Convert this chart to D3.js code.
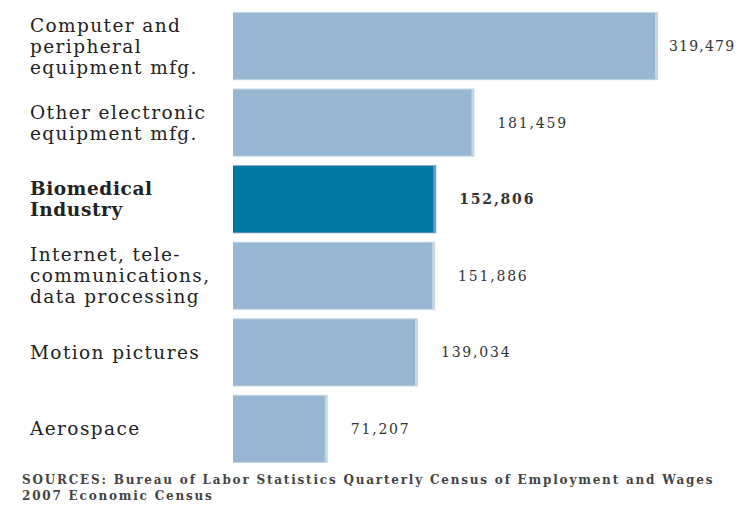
<!DOCTYPE html>
<html>
<head>
<meta charset="utf-8">
<script src="https://cdn.jsdelivr.net/npm/d3@7"></script>
<style>
  body { margin: 0; background: #fff; }
  svg { display: block; }
</style>
</head>
<body>
<div id="chart"></div>
<script>
const categories = [
    ['Computer and', 'peripheral', 'equipment mfg.'],
    ['Other electronic', 'equipment mfg.'],
    ['Biomedical', 'Industry'],
    ['Internet, tele-', 'communications,', 'data processing'],
    ['Motion pictures'],
    ['Aerospace']
];
const employment = [319479, 181459, 152806, 151886, 139034, 71207];
const highlight = [false, false, true, false, false, false];
const sourceLines = [
    'SOURCES: Bureau of Labor Statistics Quarterly Census of  Employment and Wages',
    '2007 Economic Census'
];

const width = 739;
const height = 509;
const serif = '"DejaVu Serif", "Liberation Serif", serif';

const svg = d3.select('#chart')
    .append('svg')
    .attr('width', width)
    .attr('height', height);

const rows = categories.map((c, i) => ({ id: i, lines: c, value: employment[i], hi: highlight[i] }));

const yScale = d3.scaleBand()
    .domain(rows.map(d => d.id))
    .range([12, 463])
    .paddingInner(0.11)
    .paddingOuter(0);

const xScale = d3.scaleLinear()
    .domain([0, d3.max(employment)])
    .range([233, 658]);

const row = svg.selectAll('g.row')
    .data(rows)
    .enter().append('g')
    .attr('class', 'row');

// light rim on the bar end
row.append('rect')
    .attr('x', xScale(0))
    .attr('y', d => yScale(d.id))
    .attr('width', d => xScale(d.value) - xScale(0))
    .attr('height', yScale.bandwidth())
    .attr('fill', d => d.hi ? '#6f9fc0' : '#c3d6e6');

row.append('rect')
    .attr('x', xScale(0))
    .attr('y', d => yScale(d.id) + 1)
    .attr('width', d => xScale(d.value) - xScale(0) - 3)
    .attr('height', yScale.bandwidth() - 2)
    .attr('fill', d => d.hi ? '#0076a3' : '#96b6d1');

const lineH = 21;
row.append('text')
    .attr('x', 30)
    .attr('y', d => yScale(d.id) + yScale.bandwidth() / 2 - (d.lines.length - 1) * lineH / 2)
    .style('font-family', serif)
    .style('font-size', '18.5px')
    .style('letter-spacing', d => d.hi ? '0.6px' : '1.4px')
    .style('font-weight', d => d.hi ? 'bold' : 'normal')
    .attr('fill', '#222')
    .selectAll('tspan')
    .data(d => d.lines)
    .enter().append('tspan')
    .attr('x', 30)
    .attr('dy', (d, i) => i === 0 ? '0.35em' : lineH)
    .text(d => d);

row.append('text')
    .attr('x', d => xScale(d.value) + (d.id === 0 ? 11 : 23))
    .attr('y', d => yScale(d.id) + yScale.bandwidth() / 2)
    .attr('dy', '0.35em')
    .style('font-family', serif)
    .style('font-size', '14px')
    .style('letter-spacing', d => d.id === 0 ? '1.2px' : '1.8px')
    .style('font-weight', d => d.hi ? 'bold' : 'normal')
    .attr('fill', '#333')
    .text(d => d3.format(',')(d.value));

svg.append('text')
    .attr('x', 22)
    .attr('y', 484)
    .style('font-family', serif)
    .style('font-size', '12px')
    .style('letter-spacing', '1.8px')
    .style('font-weight', 'bold')
    .attr('fill', '#444')
    .selectAll('tspan')
    .data(sourceLines)
    .enter().append('tspan')
    .attr('x', 22)
    .attr('dy', (d, i) => i === 0 ? 0 : 16)
    .text(d => d);
</script>
</body>
</html>
